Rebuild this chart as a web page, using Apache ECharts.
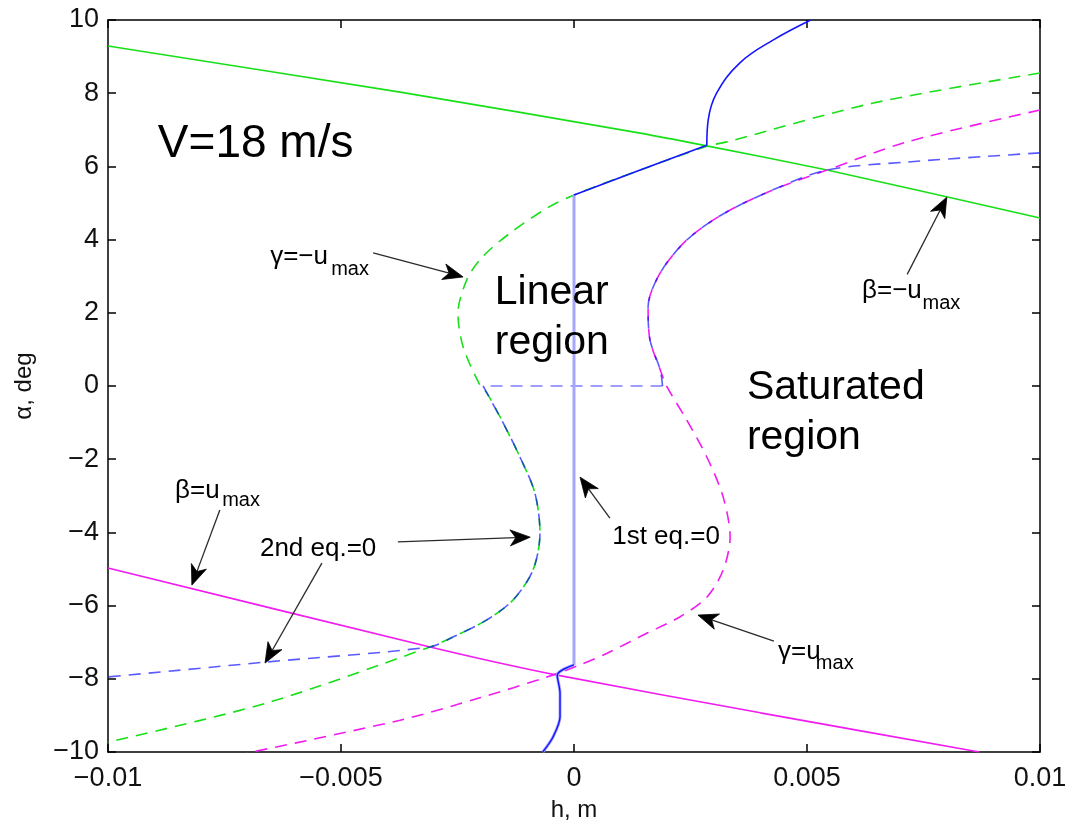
<!DOCTYPE html>
<html>
<head>
<meta charset="utf-8">
<script src="https://cdn.jsdelivr.net/npm/echarts@6/dist/echarts.min.js"></script>
<style>
  html, body { margin: 0; padding: 0; background: #ffffff; }
  #chart { width: 1067px; height: 827px; }
</style>
</head>
<body>
<div id="chart"></div>
<script>
// Axis tick labels
const xTickLabels = ['\u22120.01', '\u22120.005', '0', '0.005', '0.01'];
const yTickLabels = ['\u221210', '\u22128', '\u22126', '\u22124', '\u22122', '0', '2', '4', '6', '8', '10'];

// beta = -u_max boundary (h [m], alpha [deg])
const betaMinus = [[-0.01, 9.29], [-0.00373, 8.03], [0.00142, 6.91], [0.00285, 6.56], [0.00543, 5.9], [0.01, 4.59]];

// beta = +u_max boundary
const betaPlus = [[-0.01, -4.97], [-0.00309, -7.13], [-0.00036, -7.9], [0.004, -8.93], [0.0087, -10.0]];

// gamma = -u_max boundary
const gammaMinus = [
  [0.01, 8.55], [0.00642, 7.73], [0.00328, 6.67], [0.00285, 6.55], [0.00142, 5.9], [0, 5.22],
  [-0.00058, 4.86], [-0.00137, 4.18], [-0.00197, 3.52], [-0.0023, 2.9], [-0.00249, 1.99],
  [-0.00238, 1.07], [-0.00202, 0.03], [-0.00187, -0.19], [-0.00152, -1.01], [-0.00116, -1.94],
  [-0.00084, -2.92], [-0.00073, -4.02], [-0.00088, -5.03], [-0.00131, -5.85], [-0.00187, -6.39],
  [-0.0026, -6.86], [-0.00309, -7.13], [-0.00659, -8.66], [-0.01, -9.73]
];

// gamma = +u_max boundary
const gammaPlus = [
  [0.01, 7.54], [0.00715, 6.67], [0.00543, 5.9], [0.00427, 5.36], [0.0032, 4.7], [0.00242, 3.99],
  [0.00185, 3.09], [0.00159, 2.16], [0.00163, 1.26], [0.00185, 0.44], [0.002, -0.03],
  [0.00242, -0.93], [0.00285, -1.94], [0.0032, -3.03], [0.00335, -4.13], [0.0032, -5.03],
  [0.00285, -5.77], [0.00227, -6.31], [0.00157, -6.75], [0.00071, -7.3], [0.00013, -7.62],
  [-0.00058, -7.95], [-0.00202, -8.52], [-0.00373, -9.13], [-0.00702, -10.03]
];

// second equation = 0: upper branch, alpha = 0 segment, lower branch
const secondEqUpper = [
  [0.01, 6.37], [0.00715, 6.12], [0.00543, 5.9], [0.00427, 5.36], [0.0032, 4.7], [0.00242, 3.99],
  [0.00185, 3.09], [0.00159, 2.16], [0.00163, 1.26], [0.00185, 0.44], [0.0019, 0]
];
const secondEqZero = [[0.0019, 0], [-0.00195, 0]];
const secondEqLower = [
  [-0.00195, 0], [-0.00187, -0.19], [-0.00152, -1.01], [-0.00116, -1.94], [-0.00084, -2.92],
  [-0.00073, -4.02], [-0.00088, -5.03], [-0.00131, -5.85], [-0.00187, -6.39], [-0.0026, -6.86],
  [-0.00309, -7.13], [-0.00659, -7.54], [-0.01, -7.95]
];

// first equation = 0: top branch, join along gamma = -u_max, linear-region edge, bottom branch
const firstEqTop = [[0.00508, 10.0], [0.00427, 9.45], [0.00356, 8.83], [0.00306, 8.0], [0.00288, 7.27], [0.00285, 6.58]];
const firstEqJoin = [[0.00285, 6.58], [0.00142, 5.9], [0, 5.22]];
const firstEqVertical = [[0, 5.22], [0, -7.62]];
const firstEqLower = [[0, -7.62], [-0.00036, -7.9], [-0.0003, -8.39], [-0.0003, -9.04], [-0.00045, -9.59], [-0.00067, -10.0]];

// Annotation arrows: [tail, tip]
const arrows = [
  [[-0.00431, 3.64], [-0.00238, 2.98]],
  [[0.00715, 3.05], [0.0080, 5.16]],
  [[-0.0076, -3.39], [-0.0082, -5.44]],
  [[-0.00378, -4.26], [-0.00094, -4.13]],
  [[-0.00541, -4.84], [-0.00663, -7.57]],
  [[0.00077, -3.61], [0.00013, -2.49]],
  [[0.00429, -6.97], [0.00266, -6.26]]
];

// Annotation texts: left edge / baseline in data units
const notes = [
  { text: 'V=18 m/s', at: [-0.00893, 6.31], size: 46 },
  { text: 'Linear', at: [-0.0017, 2.30], size: 41 },
  { text: 'region', at: [-0.0017, 0.93], size: 41 },
  { text: 'Saturated', at: [0.00371, -0.30], size: 41 },
  { text: 'region', at: [0.00371, -1.67], size: 41 },
  { text: '\u03b3=\u2212u', at: [-0.00652, 3.36], size: 26 },
  { text: 'max', at: [-0.00521, 3.06], size: 20 },
  { text: '\u03b2=\u2212u', at: [0.00618, 2.43], size: 26 },
  { text: 'max', at: [0.00748, 2.13], size: 20 },
  { text: '\u03b2=u', at: [-0.00856, -3.03], size: 26 },
  { text: 'max', at: [-0.00755, -3.25], size: 20 },
  { text: '2nd eq.=0', at: [-0.00674, -4.62], size: 26 },
  { text: '1st eq.=0', at: [0.00082, -4.29], size: 26 },
  { text: '\u03b3=u', at: [0.00438, -7.43], size: 26 },
  { text: 'max', at: [0.00519, -7.70], size: 20 }
];

const FONT = '"Liberation Sans", Arial, Helvetica, sans-serif';
const GREEN = '#18e018';
const MAGENTA = '#f01cf0';
const BLUE = '#1414ff';
const PALE_BLUE = '#a6a6ff';

function curve(name, data, color, dashed, width, z, opacity, smooth) {
  return {
    type: 'line',
    name: name,
    data: data,
    symbol: 'none',
    showSymbol: false,
    silent: true,
    z: z,
    clip: true,
    smooth: smooth || false,
    lineStyle: { color: color, width: width, type: dashed ? [12, 8] : 'solid', opacity: opacity == null ? 1 : opacity }
  };
}

const chart = echarts.init(document.getElementById('chart'), null, { renderer: 'canvas' });

const baseAxis = {
  type: 'value',
  axisLine: { show: true, onZero: false, lineStyle: { color: '#000', width: 1.5 } },
  axisTick: { show: true, inside: true, length: 8, lineStyle: { color: '#000', width: 1.5 } },
  splitLine: { show: false }
};

chart.setOption({
  animation: false,
  backgroundColor: '#ffffff',
  grid: { left: 108, right: 27, top: 20, bottom: 75, containLabel: false, outerBoundsMode: 'none' },
  xAxis: [
    Object.assign({}, baseAxis, {
      min: -0.01, max: 0.01, interval: 0.005, position: 'bottom',
      name: 'h, m', nameLocation: 'middle', nameGap: 46,
      nameTextStyle: { fontFamily: FONT, fontSize: 24, color: '#111' },
      axisLabel: {
        margin: 13, fontFamily: FONT, fontSize: 27, color: '#111',
        formatter: v => xTickLabels[Math.round((v + 0.01) / 0.005)]
      }
    }),
    Object.assign({}, baseAxis, {
      min: -0.01, max: 0.01, interval: 0.005, position: 'top',
      axisLabel: { show: false }
    })
  ],
  yAxis: [
    Object.assign({}, baseAxis, {
      min: -10, max: 10, interval: 2, position: 'left',
      name: '\u03b1, deg', nameLocation: 'middle', nameGap: 72, nameRotate: 90,
      nameTextStyle: { fontFamily: FONT, fontSize: 24, color: '#111' },
      axisLabel: {
        margin: 9, fontFamily: FONT, fontSize: 27, color: '#111',
        formatter: v => yTickLabels[Math.round((v + 10) / 2)]
      }
    }),
    Object.assign({}, baseAxis, {
      min: -10, max: 10, interval: 2, position: 'right',
      axisLabel: { show: false }
    })
  ],
  series: [
    curve('beta = -umax', betaMinus, GREEN, false, 1.6, 2, 1, 0.2),
    curve('beta = umax', betaPlus, MAGENTA, false, 1.6, 2, 1, 0.2),
    curve('gamma = -umax', gammaMinus, GREEN, true, 1.6, 3, 1, 0.3),
    curve('gamma = umax', gammaPlus, MAGENTA, true, 1.6, 3, 1, 0.3),
    curve('2nd eq. = 0 (upper)', secondEqUpper, BLUE, true, 1.6, 4, 0.7, 0.3),
    curve('2nd eq. = 0 (alpha = 0)', secondEqZero, BLUE, true, 1.6, 4, 0.55),
    curve('2nd eq. = 0 (lower)', secondEqLower, BLUE, true, 1.6, 4, 0.7, 0.3),
    curve('1st eq. = 0 (edge)', firstEqVertical, PALE_BLUE, false, 3, 4),
    curve('1st eq. = 0 (top)', firstEqTop, BLUE, false, 1.6, 5, 1, 0.4),
    curve('1st eq. = 0 (join)', firstEqJoin, BLUE, false, 1.6, 5),
    curve('1st eq. = 0 (bottom band)', firstEqLower, PALE_BLUE, false, 3, 4, 1, 0.3),
    curve('1st eq. = 0 (bottom)', firstEqLower, BLUE, false, 1.4, 5, 1, 0.3)
  ]
});

// Notes and arrows placed through the grid's own coordinate conversion
const toPx = v => chart.convertToPixel({ gridIndex: 0 }, v);
const graphics = [];

notes.forEach(n => {
  const p = toPx(n.at);
  graphics.push({
    type: 'text',
    x: p[0],
    y: p[1] - 0.23 * n.size,
    silent: true,
    z: 20,
    style: {
      text: n.text,
      fontFamily: FONT,
      fontSize: n.size,
      fill: '#000',
      align: 'left',
      verticalAlign: 'middle'
    }
  });
});

const HEAD_LEN = 20;
const HEAD_HALF = 8;
arrows.forEach(a => {
  const t = toPx(a[0]);
  const h = toPx(a[1]);
  const dx = h[0] - t[0], dy = h[1] - t[1];
  const len = Math.hypot(dx, dy);
  const ux = dx / len, uy = dy / len;
  const nx = -uy, ny = ux;
  const bx = h[0] - HEAD_LEN * ux, by = h[1] - HEAD_LEN * uy;
  const notchX = h[0] - 0.72 * HEAD_LEN * ux, notchY = h[1] - 0.72 * HEAD_LEN * uy;
  graphics.push({
    type: 'line', silent: true, z: 15,
    shape: { x1: t[0], y1: t[1], x2: notchX, y2: notchY },
    style: { stroke: '#2a2a2a', lineWidth: 1.3 }
  });
  graphics.push({
    type: 'polygon', silent: true, z: 16,
    shape: { points: [[h[0], h[1]], [bx + HEAD_HALF * nx, by + HEAD_HALF * ny], [notchX, notchY], [bx - HEAD_HALF * nx, by - HEAD_HALF * ny]] },
    style: { fill: '#000', stroke: '#000', lineWidth: 0.8 }
  });
});

chart.setOption({ graphic: graphics });
</script>
</body>
</html>
